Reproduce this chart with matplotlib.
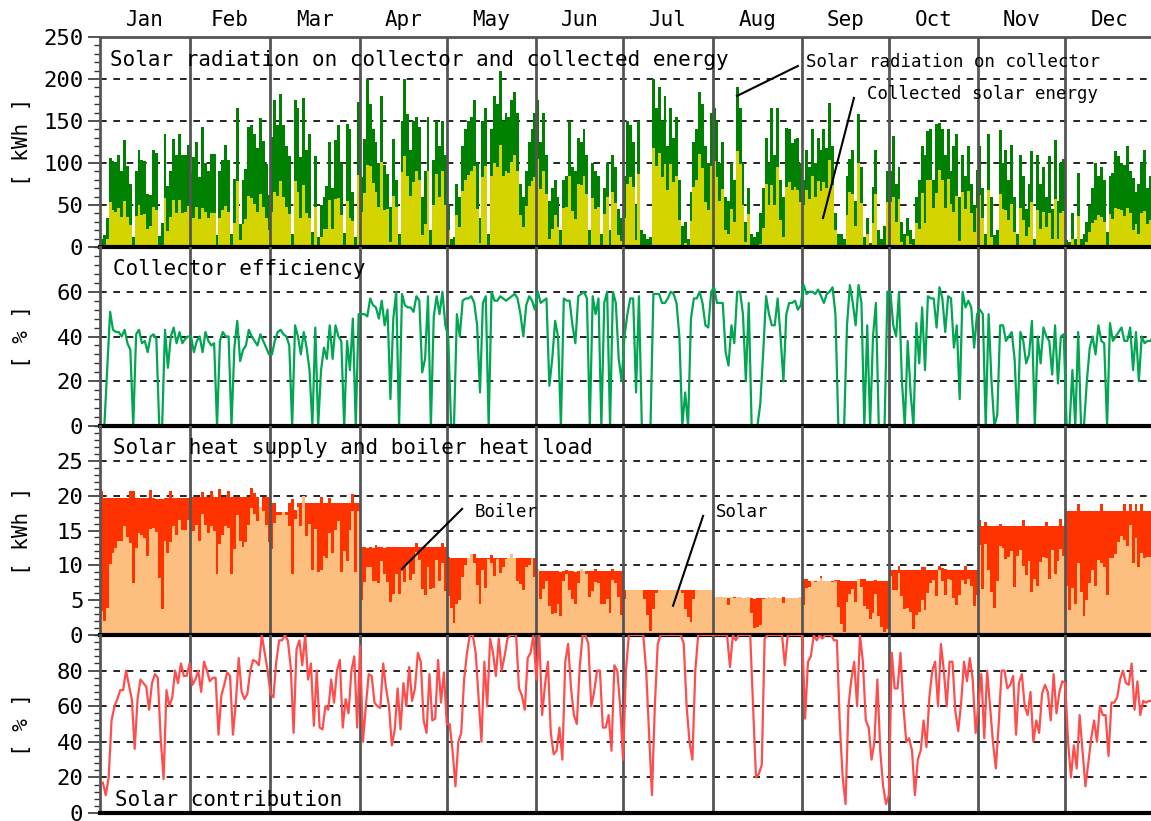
import matplotlib
matplotlib.use("Agg")
import matplotlib.pyplot as plt
import matplotlib.transforms as mtransforms
from matplotlib.ticker import MultipleLocator
import numpy as np

months = ["Jan", "Feb", "Mar", "Apr", "May", "Jun",
          "Jul", "Aug", "Sep", "Oct", "Nov", "Dec"]

# daily solar radiation on collector [kWh], one row per month
radiation = [
    [10, 14, 34, 106, 102, 101, 110, 91, 127, 96, 75, 12, 90, 116, 103, 102, 63, 62, 116, 112, 13, 29, 135, 73, 91, 128, 110, 134, 110, 109, 122],
    [88, 107, 125, 83, 143, 100, 91, 111, 111, 14, 90, 104, 122, 104, 15, 81, 165, 27, 80, 93, 143, 145, 135, 118, 154, 126, 99, 62],
    [131, 175, 145, 182, 145, 120, 108, 15, 175, 165, 107, 177, 115, 135, 18, 108, 12, 50, 60, 73, 125, 70, 127, 145, 100, 17, 146, 140, 65, 12, 173],
    [83, 128, 200, 170, 140, 125, 100, 180, 98, 87, 48, 128, 80, 15, 150, 200, 158, 115, 150, 155, 143, 60, 90, 155, 20, 103, 150, 120, 150, 110],
    [50, 10, 12, 75, 60, 120, 140, 150, 155, 175, 100, 35, 150, 165, 15, 140, 180, 170, 210, 150, 160, 155, 175, 185, 160, 75, 60, 90, 125, 140, 160],
    [175, 125, 160, 110, 55, 70, 80, 60, 20, 80, 85, 150, 95, 90, 130, 125, 140, 110, 20, 100, 90, 85, 15, 70, 100, 20, 110, 95, 45, 35],
    [85, 150, 145, 125, 50, 150, 20, 15, 10, 12, 200, 165, 190, 150, 180, 120, 165, 130, 155, 80, 25, 30, 10, 65, 125, 140, 185, 170, 120, 100, 160],
    [165, 150, 100, 125, 60, 55, 100, 80, 190, 165, 100, 30, 70, 15, 12, 18, 40, 70, 130, 100, 165, 110, 166, 80, 60, 142, 140, 124, 128, 130, 100],
    [80, 115, 95, 140, 100, 130, 115, 140, 118, 172, 120, 40, 15, 16, 10, 84, 105, 115, 55, 158, 95, 12, 35, 5, 72, 115, 20, 10, 25, 90],
    [90, 132, 75, 95, 30, 15, 35, 20, 10, 60, 80, 120, 110, 138, 140, 80, 146, 148, 140, 110, 140, 90, 120, 135, 60, 110, 85, 120, 75, 50, 92],
    [120, 70, 16, 135, 60, 14, 20, 139, 100, 115, 80, 121, 60, 15, 110, 85, 45, 75, 114, 10, 110, 75, 95, 60, 108, 45, 127, 55, 100, 105],
    [8, 6, 40, 10, 88, 10, 15, 30, 50, 70, 100, 85, 95, 80, 18, 85, 88, 114, 108, 100, 98, 120, 90, 82, 65, 75, 100, 115, 70, 85, 70],
]

# daily collected solar energy [kWh]
collected = [
    [0, 0, 9, 54, 44, 42, 46, 36, 55, 36, 26, 0, 37, 50, 38, 39, 21, 25, 48, 44, 0, 0, 58, 19, 36, 56, 41, 56, 41, 42, 49],
    [35, 35, 48, 33, 47, 42, 35, 40, 41, 0, 34, 44, 49, 42, 0, 28, 78, 8, 27, 33, 61, 58, 51, 42, 63, 48, 35, 20],
    [42, 66, 61, 78, 59, 48, 39, 0, 79, 66, 34, 74, 40, 34, 0, 48, 0, 12, 21, 22, 56, 21, 57, 58, 38, 0, 55, 35, 31, 0, 86],
    [42, 64, 98, 97, 76, 66, 48, 101, 44, 45, 6, 61, 48, 0, 89, 108, 84, 61, 77, 90, 80, 14, 27, 90, 0, 50, 87, 60, 90, 50],
    [20, 0, 0, 38, 24, 67, 80, 86, 90, 96, 45, 5, 83, 96, 0, 84, 100, 95, 122, 85, 90, 88, 101, 109, 91, 38, 24, 49, 73, 78, 83],
    [105, 69, 90, 63, 10, 21, 38, 24, 0, 46, 48, 84, 43, 33, 75, 74, 84, 63, 0, 58, 45, 48, 0, 39, 60, 0, 66, 52, 14, 7],
    [34, 75, 83, 71, 8, 87, 0, 0, 0, 0, 118, 97, 112, 83, 99, 68, 99, 77, 85, 32, 0, 5, 0, 31, 71, 80, 111, 94, 54, 44, 96],
    [102, 83, 55, 69, 20, 15, 45, 30, 114, 99, 50, 6, 39, 0, 0, 0, 4, 23, 75, 50, 74, 50, 95, 32, 12, 71, 77, 68, 72, 68, 54],
    [50, 68, 57, 84, 59, 79, 67, 77, 70, 103, 74, 20, 0, 0, 0, 38, 66, 63, 25, 100, 52, 0, 16, 0, 29, 63, 0, 0, 0, 54],
    [54, 59, 30, 57, 6, 0, 13, 3, 0, 28, 22, 64, 28, 80, 80, 46, 64, 92, 80, 46, 81, 51, 42, 61, 7, 66, 45, 67, 40, 18, 46],
    [62, 35, 0, 68, 12, 0, 1, 63, 45, 44, 32, 51, 18, 0, 46, 32, 13, 24, 54, 0, 44, 21, 42, 24, 41, 10, 57, 10, 40, 43],
    [0, 0, 10, 0, 37, 0, 0, 6, 18, 28, 32, 38, 36, 30, 0, 39, 33, 46, 45, 44, 37, 46, 40, 20, 27, 15, 40, 43, 27, 32, 28],
]

# daily collector efficiency [%]
efficiency = [
    [0, 0, 26, 51, 43, 42, 42, 40, 43, 37, 34, 0, 41, 43, 37, 38, 33, 40, 41, 39, 0, 0, 43, 26, 40, 44, 37, 42, 37, 39, 40],
    [40, 33, 38, 40, 33, 42, 38, 36, 37, 0, 38, 42, 40, 40, 0, 35, 47, 29, 34, 36, 43, 40, 38, 36, 41, 38, 35, 32],
    [32, 38, 42, 43, 41, 40, 36, 0, 45, 40, 32, 42, 35, 25, 0, 44, 0, 25, 35, 30, 45, 30, 45, 40, 38, 0, 38, 25, 48, 0, 50],
    [50, 50, 49, 57, 54, 53, 48, 56, 45, 52, 12, 48, 60, 0, 59, 54, 53, 53, 51, 58, 56, 24, 30, 58, 0, 49, 58, 50, 60, 45],
    [40, 0, 0, 50, 40, 56, 57, 57, 58, 55, 45, 15, 55, 58, 0, 60, 56, 56, 58, 57, 56, 57, 58, 59, 57, 50, 40, 54, 58, 56, 52],
    [60, 55, 56, 57, 18, 30, 47, 40, 0, 57, 56, 56, 45, 37, 58, 59, 60, 57, 0, 58, 50, 57, 0, 55, 60, 0, 60, 55, 30, 20],
    [40, 50, 57, 57, 15, 58, 0, 0, 0, 0, 59, 59, 59, 55, 55, 57, 60, 59, 55, 40, 0, 15, 0, 48, 57, 57, 60, 55, 45, 44, 60],
    [62, 55, 55, 55, 33, 27, 45, 37, 60, 60, 50, 20, 55, 0, 0, 0, 10, 33, 58, 50, 45, 45, 57, 40, 20, 50, 55, 55, 56, 52, 54],
    [63, 59, 60, 60, 59, 61, 58, 55, 59, 60, 62, 50, 0, 0, 0, 45, 63, 55, 45, 63, 55, 0, 45, 0, 40, 55, 0, 0, 0, 60],
    [60, 45, 40, 60, 20, 0, 38, 15, 0, 46, 28, 53, 25, 58, 57, 57, 44, 62, 57, 42, 58, 57, 35, 45, 12, 60, 53, 56, 53, 35, 50],
    [52, 50, 0, 50, 20, 0, 5, 45, 45, 38, 40, 42, 30, 0, 42, 38, 28, 32, 47, 0, 40, 28, 44, 40, 38, 23, 45, 19, 40, 41],
    [0, 0, 25, 0, 42, 0, 0, 20, 35, 40, 32, 45, 38, 37, 0, 46, 38, 40, 42, 44, 38, 38, 44, 25, 42, 20, 40, 37, 38, 38, 40],
]

# daily boiler heat load [kWh]
heat_load = [
    [20.6, 19.6, 19.6, 19.6, 19.7, 19.6, 19.6, 19.6, 19.6, 19.6, 20.6, 20.6, 19.6, 19.6, 19.6, 19.6, 19.6, 20.8, 19.6, 19.5, 19.5, 19.5, 19.6, 19.6, 20.6, 19.6, 19.6, 19.6, 19.6, 19.6, 19.6],
    [21.0, 19.8, 19.8, 19.8, 20.5, 19.8, 19.8, 20.7, 19.8, 19.8, 20.9, 19.8, 19.8, 20.6, 19.8, 19.8, 19.8, 19.8, 19.8, 19.8, 19.8, 21.1, 20.4, 19.8, 18.4, 19.8, 19.8, 19.8],
    [18.9, 18.9, 17.7, 17.7, 17.7, 17.7, 19.0, 19.5, 18.0, 19.0, 18.9, 19.9, 18.9, 18.9, 18.9, 19.0, 18.9, 19.8, 18.9, 19.0, 19.6, 18.9, 18.9, 18.9, 18.9, 18.9, 18.9, 18.9, 20.2, 18.9, 18.9],
    [12.6, 12.6, 12.5, 12.6, 12.5, 12.9, 12.6, 12.6, 12.5, 12.6, 12.6, 12.6, 12.6, 12.6, 12.6, 12.6, 12.6, 12.6, 12.6, 13.2, 12.6, 12.6, 12.6, 12.6, 12.6, 12.6, 12.6, 12.6, 13.2, 12.6],
    [11.2, 11.1, 11.1, 11.1, 11.1, 11.1, 11.1, 11.1, 11.6, 11.6, 11.1, 11.1, 11.1, 11.1, 11.1, 11.5, 11.1, 11.1, 11.1, 11.1, 11.1, 11.1, 11.6, 11.1, 11.1, 11.1, 11.1, 11.1, 11.1, 11.1, 11.1],
    [9.5, 9.2, 9.2, 9.2, 9.2, 9.2, 9.2, 9.2, 9.0, 9.2, 9.3, 9.2, 9.2, 9.0, 9.2, 9.5, 9.2, 9.2, 9.2, 9.2, 9.5, 9.2, 9.2, 9.2, 9.2, 9.2, 9.5, 9.2, 9.2, 9.2],
    [6.4, 6.5, 6.4, 6.4, 6.4, 6.4, 6.5, 6.4, 6.4, 6.4, 6.4, 6.4, 6.4, 6.5, 6.4, 6.4, 6.5, 6.4, 6.4, 6.4, 6.4, 6.4, 6.4, 6.4, 6.5, 6.4, 6.5, 6.4, 6.4, 6.4, 6.4],
    [5.5, 5.4, 5.4, 5.4, 5.5, 5.3, 5.4, 5.5, 5.4, 5.4, 5.3, 5.3, 5.4, 5.3, 5.2, 5.3, 5.3, 5.3, 5.3, 5.2, 5.3, 5.4, 5.3, 5.3, 5.5, 5.3, 5.3, 5.3, 5.3, 5.3, 5.4],
    [8.1, 8.0, 7.8, 7.8, 7.8, 7.8, 8.4, 7.8, 7.8, 7.8, 7.8, 7.9, 7.9, 7.8, 7.8, 7.8, 7.8, 7.8, 7.8, 8.1, 8.1, 8.0, 7.8, 7.8, 7.8, 7.9, 7.8, 7.8, 7.8, 7.8],
    [9.3, 9.3, 9.3, 9.9, 9.3, 9.3, 9.3, 9.3, 9.3, 9.3, 9.3, 9.7, 9.7, 9.4, 9.4, 9.3, 9.3, 9.9, 9.6, 9.5, 9.4, 9.3, 9.3, 9.4, 9.3, 9.3, 9.9, 9.3, 9.3, 9.3, 9.3],
    [16.5, 15.7, 16.2, 15.6, 15.6, 15.6, 15.6, 16.0, 15.6, 15.6, 15.6, 15.6, 15.6, 15.6, 15.6, 16.5, 15.6, 15.6, 15.6, 15.6, 15.6, 15.6, 15.6, 16.2, 15.6, 15.6, 15.6, 15.6, 16.6, 15.6],
    [17.8, 17.8, 17.8, 17.8, 18.8, 17.8, 17.8, 17.8, 17.8, 17.8, 17.8, 17.8, 18.8, 17.8, 17.8, 17.8, 17.8, 17.8, 17.8, 17.8, 18.8, 17.8, 18.8, 17.8, 18.8, 17.8, 18.8, 17.8, 17.8, 17.8, 17.8],
]

# daily solar heat supply [kWh]
solar_supply = [
    [3.5, 2.0, 3.9, 10.2, 11.8, 12.5, 13.5, 13.5, 15.7, 14.1, 13.2, 7.4, 12.5, 14.7, 14.3, 13.9, 11.4, 15.2, 15.3, 14.8, 8.2, 3.7, 13.5, 11.8, 13.4, 15.7, 14.3, 16.5, 15.1, 15.1, 16.5],
    [15.1, 14.9, 15.8, 13.5, 17.4, 15.8, 14.7, 15.7, 15.0, 8.7, 13.1, 14.3, 15.6, 15.3, 8.7, 12.3, 17.2, 13.5, 12.7, 13.3, 15.8, 18.2, 17.3, 16.4, 18.4, 17.8, 15.8, 13.3],
    [12.3, 16.1, 17.2, 17.2, 17.7, 17.2, 15.6, 8.8, 16.6, 18.4, 15.7, 19.9, 14.2, 15.9, 9.3, 15.2, 9.1, 9.3, 11.3, 11.0, 14.7, 11.7, 15.1, 16.3, 9.1, 12.1, 10.6, 15.1, 17.8, 9.1, 17.8],
    [5.0, 7.6, 9.8, 9.7, 7.8, 7.7, 7.4, 10.6, 8.8, 7.6, 4.8, 5.9, 8.8, 5.9, 9.2, 7.6, 10.3, 7.9, 8.8, 11.9, 10.7, 6.6, 5.7, 9.8, 6.6, 6.7, 10.8, 7.8, 10.4, 6.3],
    [5.6, 3.9, 1.7, 4.4, 5.0, 8.3, 10.0, 11.1, 11.6, 10.4, 7.2, 4.4, 9.4, 6.7, 10.9, 10.4, 8.5, 10.9, 8.9, 9.8, 10.9, 11.1, 11.6, 11.1, 7.8, 7.3, 6.4, 9.7, 10.0, 11.1, 8.3],
    [9.5, 5.1, 6.6, 7.8, 4.1, 3.0, 3.2, 4.4, 2.7, 7.8, 8.8, 6.4, 5.1, 4.5, 7.5, 9.5, 9.2, 8.7, 5.5, 6.3, 7.6, 7.4, 4.4, 4.4, 5.1, 3.2, 7.9, 7.4, 5.5, 2.8],
    [5.1, 6.5, 6.4, 6.4, 6.4, 6.4, 6.5, 5.1, 2.9, 0.6, 3.8, 6.1, 6.4, 6.5, 6.4, 6.4, 6.5, 6.4, 6.4, 6.4, 6.1, 3.8, 2.6, 1.9, 5.2, 6.4, 6.5, 6.4, 6.4, 6.4, 6.4],
    [5.5, 5.4, 5.4, 5.4, 5.5, 4.3, 5.4, 5.3, 5.4, 5.4, 5.3, 5.3, 5.4, 3.2, 1.0, 1.2, 1.4, 5.2, 5.3, 5.4, 5.3, 5.4, 5.3, 5.3, 4.6, 5.3, 5.3, 5.3, 5.3, 5.3, 5.4],
    [4.3, 6.8, 6.9, 7.8, 7.6, 7.8, 8.2, 7.8, 7.8, 7.8, 7.6, 7.7, 4.0, 1.6, 0.4, 4.7, 5.9, 6.6, 4.7, 8.1, 6.9, 4.2, 3.7, 2.3, 3.1, 5.9, 2.7, 1.2, 0.4, 0.8],
    [8.4, 6.5, 6.5, 8.9, 5.6, 3.7, 3.9, 3.3, 0.9, 2.8, 3.3, 5.0, 3.6, 6.1, 7.5, 7.9, 5.6, 9.4, 7.7, 5.7, 8.0, 7.9, 5.3, 4.3, 5.8, 7.9, 7.3, 8.1, 7.0, 4.2, 5.7],
    [12.9, 6.6, 13.0, 9.4, 6.2, 3.9, 7.8, 12.8, 12.5, 10.9, 11.2, 12.0, 6.9, 11.4, 12.2, 9.9, 8.6, 10.6, 6.2, 8.1, 7.0, 10.5, 11.2, 11.0, 8.1, 12.2, 8.7, 10.6, 12.3, 11.4],
    [7.1, 3.6, 6.8, 4.5, 10.3, 6.2, 2.7, 5.0, 7.5, 9.3, 7.1, 10.7, 10.3, 9.8, 5.7, 11.0, 11.0, 11.6, 13.4, 14.2, 13.7, 12.8, 15.8, 10.3, 13.9, 9.8, 11.8, 11.0, 11.2, 11.2, 11.2],
]

# daily solar contribution [%]
solar_share = [
    [17, 10, 20, 52, 60, 64, 69, 69, 80, 72, 64, 36, 64, 75, 73, 71, 58, 73, 78, 76, 42, 19, 69, 60, 65, 80, 73, 84, 77, 77, 84],
    [72, 75, 80, 68, 85, 80, 74, 76, 76, 44, 66, 72, 79, 77, 44, 62, 87, 68, 64, 67, 80, 86, 85, 83, 100, 90, 80, 67],
    [65, 85, 97, 97, 100, 97, 82, 45, 92, 97, 83, 100, 75, 84, 49, 80, 48, 47, 60, 58, 75, 62, 80, 86, 48, 64, 56, 80, 88, 48, 94],
    [40, 60, 78, 77, 62, 60, 59, 84, 70, 60, 38, 47, 70, 47, 73, 60, 82, 63, 70, 90, 85, 52, 45, 78, 52, 53, 86, 62, 79, 50],
    [50, 35, 15, 40, 45, 75, 90, 100, 100, 90, 65, 40, 85, 60, 98, 90, 77, 98, 80, 88, 98, 100, 100, 100, 70, 66, 58, 87, 90, 100, 75],
    [100, 55, 72, 85, 45, 33, 35, 48, 30, 85, 95, 70, 55, 50, 82, 100, 100, 95, 60, 68, 80, 80, 48, 48, 55, 35, 83, 80, 60, 30],
    [80, 100, 100, 100, 100, 100, 100, 80, 45, 10, 60, 95, 100, 100, 100, 100, 100, 100, 100, 100, 95, 60, 40, 30, 80, 100, 100, 100, 100, 100, 100],
    [100, 100, 100, 100, 100, 82, 100, 97, 100, 100, 100, 100, 100, 60, 20, 22, 27, 98, 100, 100, 100, 100, 100, 100, 83, 100, 100, 100, 100, 100, 100],
    [53, 85, 88, 100, 97, 100, 98, 100, 100, 100, 97, 97, 50, 20, 5, 60, 75, 85, 60, 100, 85, 52, 48, 30, 40, 75, 35, 15, 5, 10],
    [90, 70, 70, 90, 60, 40, 42, 35, 10, 30, 35, 52, 37, 65, 80, 85, 60, 95, 80, 60, 85, 85, 57, 46, 62, 85, 74, 87, 75, 45, 61],
    [78, 42, 80, 60, 40, 25, 50, 80, 80, 70, 72, 77, 44, 73, 78, 60, 55, 68, 40, 52, 45, 67, 72, 68, 52, 78, 56, 68, 74, 73],
    [40, 20, 38, 25, 55, 35, 15, 28, 42, 52, 40, 60, 55, 55, 32, 62, 62, 65, 75, 80, 73, 72, 84, 58, 74, 55, 63, 62, 63, 63, 63],
]


def flat(rows):
    return np.concatenate([np.asarray(r, dtype=float) for r in rows])


rad = flat(radiation)
col = flat(collected)
eff = flat(efficiency)
load = flat(heat_load)
sol = flat(solar_supply)
share = flat(solar_share)

days = np.arange(len(rad))
month_len = [len(r) for r in radiation]
month_edges = np.cumsum([0] + month_len)

plt.rcParams["font.family"] = "DejaVu Sans Mono"

fig = plt.figure(figsize=(11.51, 8.21), dpi=100)
W, H = 1151.0, 821.0
left = 100 / W

# panel pixel extents (top, bottom)
rows = [(37, 247), (247, 426), (426, 635), (635, 813)]
axes = []
for top, bot in rows:
    ax = fig.add_axes([left, 1 - bot / H, 1 - left, (bot - top) / H])
    axes.append(ax)

ax1, ax2, ax3, ax4 = axes
grey = "#555555"

# solar radiation and collected energy
ax1.bar(days, rad, width=1.0, align="edge", color="#008000", linewidth=0, zorder=1)
ax1.bar(days, col, width=1.0, align="edge", color="#d4d400", linewidth=0, zorder=1.5)
ax1.set_ylim(0, 250)
ax1.yaxis.set_major_locator(MultipleLocator(50))
ax1.yaxis.set_minor_locator(MultipleLocator(10))

# collector efficiency
ax2.plot(days + 0.5, eff, color="#00a651", lw=1.6, zorder=4)
ax2.set_ylim(0, 80)
ax2.set_yticks([0, 20, 40, 60])
ax2.yaxis.set_minor_locator(MultipleLocator(4))

# heat load and solar supply
ax3.bar(days, load, width=1.0, align="edge", color="#ff3300", linewidth=0, zorder=1)
ax3.bar(days, sol, width=1.0, align="edge", color="#fdbf80", linewidth=0, zorder=1.5)
ax3.set_ylim(0, 30)
ax3.set_yticks([0, 5, 10, 15, 20, 25])
ax3.yaxis.set_minor_locator(MultipleLocator(1))

# solar contribution
ax4.plot(days + 1, share, color="#ff4d4d", lw=1.6, zorder=4)
ax4.set_ylim(0, 100)
ax4.set_yticks([0, 20, 40, 60, 80])
ax4.yaxis.set_minor_locator(MultipleLocator(4))

for i, ax in enumerate(axes):
    ax.set_xlim(0, 363.7)
    ax.set_xticks([])
    ax.set_axisbelow(True)
    ax.grid(axis="y", which="major", color="black", linestyle=(0, (4, 4)), linewidth=1.2)
    for m in month_edges[1:-1]:
        ax.axvline(m, color=grey, lw=2, zorder=3)
    ax.spines["right"].set_visible(False)
    ax.spines["bottom"].set_color("black")
    ax.spines["bottom"].set_linewidth(3)
    ax.spines["bottom"].set_zorder(5)
    ax.spines["left"].set_color(grey)
    ax.spines["left"].set_linewidth(2)
    if i == 0:
        ax.spines["top"].set_color(grey)
        ax.spines["top"].set_linewidth(2)
    else:
        ax.spines["top"].set_visible(False)
    ax.tick_params(axis="y", which="major", length=9, width=1.2, direction="out",
                   labelsize=16, pad=3, color="#333333")
    ax.tick_params(axis="y", which="minor", length=4.5, width=1.0, direction="out",
                   color="#333333")
    ax.patch.set_alpha(0)

# month names above the first panel
trans = mtransforms.blended_transform_factory(ax1.transData, ax1.transAxes)
for name, a, b in zip(months, month_edges[:-1], month_edges[1:]):
    ax1.text((a + b) / 2, 1.081, name, transform=trans, ha="center", va="center",
             fontsize=15)

# panel titles
ax1.text(0.0095, 0.89, "Solar radiation on collector and collected energy",
         transform=ax1.transAxes, ha="left", va="center", fontsize=15)
ax2.text(0.012, 0.877, "Collector efficiency", transform=ax2.transAxes,
         ha="left", va="center", fontsize=15)
ax3.text(0.012, 0.895, "Solar heat supply and boiler heat load",
         transform=ax3.transAxes, ha="left", va="center", fontsize=15)
ax4.text(0.014, 0.073, "Solar contribution", transform=ax4.transAxes,
         ha="left", va="center", fontsize=15)

# unit labels
for (top, bot), unit in zip(rows, ["[ kWh ]", "[ % ]", "[ kWh ]", "[ % ]"]):
    fig.text(22 / W, 1 - (top + bot) / 2 / H, unit, rotation=90,
             ha="center", va="center", fontsize=15)

# callouts
ax1.plot([220.4, 241.5], [179.8, 215.5], color="black", lw=1.5, zorder=6)
ax1.text(244.3, 220, "Solar radiation on collector", ha="left", va="center",
         fontsize=12.5, zorder=6)
ax1.plot([260.9, 250.2], [177.4, 34.5], color="black", lw=1.5, zorder=6)
ax1.text(265.4, 182, "Collected solar energy", ha="left", va="center",
         fontsize=12.5, zorder=6)

ax3.plot([125.3, 104.5], [18.1, 9.5], color="black", lw=1.5, zorder=6)
ax3.text(129.8, 17.7, "Boiler", ha="left", va="center", fontsize=12.5, zorder=6)
ax3.plot([208.7, 198.3], [17.1, 4.2], color="black", lw=1.5, zorder=6)
ax3.text(213.1, 17.7, "Solar", ha="left", va="center", fontsize=12.5, zorder=6)

fig.savefig("out.png", dpi=100)
